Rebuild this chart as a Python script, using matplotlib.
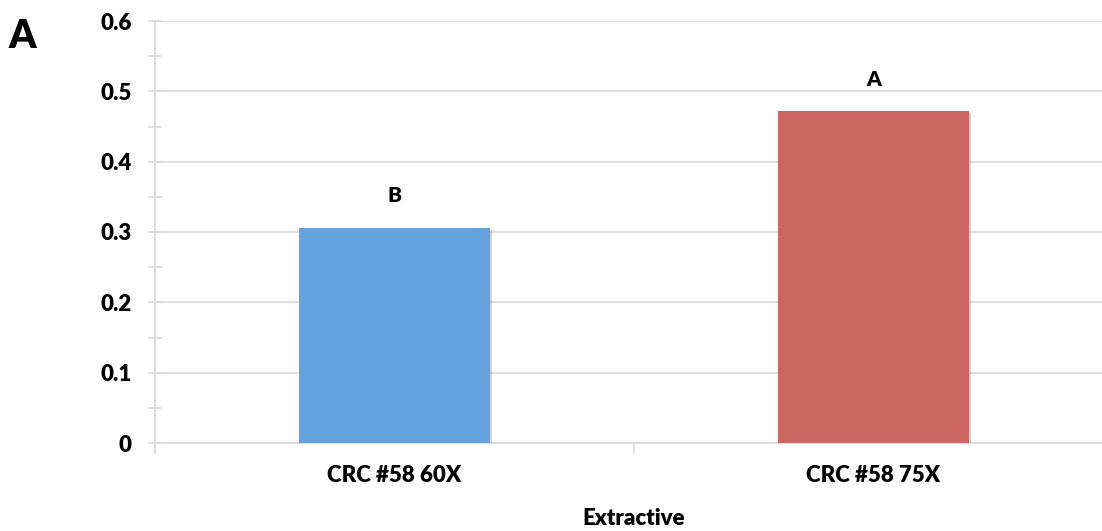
import numpy as np
import matplotlib.pyplot as plt
import matplotlib.patheffects as pe

categories = ['CRC #58 60X', 'CRC #58 75X']
values = [0.306, 0.472]
letters = ['B', 'A']
colors = ['#65a1dd', '#cc6660']

plt.rcParams['font.family'] = ['Lato', 'DejaVu Sans']

fig = plt.figure(figsize=(11.02, 5.31), dpi=100)
ax = fig.add_axes([155 / 1102, 1 - 443 / 531, 958 / 1102, 422 / 531])

x = np.arange(len(categories))
bars = ax.bar(x, values, width=0.4, color=colors, zorder=3)
for b in bars:
    b.set_path_effects([pe.SimplePatchShadow(offset=(1.5, -1.5), alpha=0.2), pe.Normal()])

for xi, v, l in zip(x, values, letters):
    ax.text(xi, v + 0.032, l, ha='center', va='bottom', fontsize=15, fontweight='heavy')

ax.set_xlim(-0.5, 1.5)
ax.set_ylim(0, 0.6)
ax.set_yticks(np.arange(0, 0.61, 0.1))
ax.set_yticklabels(['0', '0.1', '0.2', '0.3', '0.4', '0.5', '0.6'])
ax.set_yticks(np.arange(0.05, 0.6, 0.1), minor=True)
ax.set_xticks(x)
ax.set_xticklabels(categories)
ax.set_xticks([-0.5, 0.5, 1.5], minor=True)

ax.grid(axis='y', color='#d9d9d9', linewidth=1.2, zorder=0)
for s in ['top', 'right']:
    ax.spines[s].set_visible(False)
for s in ['left', 'bottom']:
    ax.spines[s].set_color('#d9d9d9')
    ax.spines[s].set_linewidth(1.2)

ax.tick_params(axis='y', which='both', direction='inout', length=10, color='#d9d9d9', width=1.2, labelsize=16, pad=12)
ax.tick_params(axis='x', which='major', length=0, labelsize=16, pad=16)
ax.tick_params(axis='x', which='minor', direction='out', length=8, color='#d9d9d9', width=1.2)
for lab in ax.get_yticklabels() + ax.get_xticklabels():
    lab.set_fontweight('heavy')

ax.set_xlabel('Extractive', fontsize=16, fontweight='heavy', labelpad=16)
fig.text(8 / 1102, 1 - 36 / 531, 'A', fontsize=28, fontweight='heavy', va='center', ha='left')

plt.savefig('out.png', dpi=100)
